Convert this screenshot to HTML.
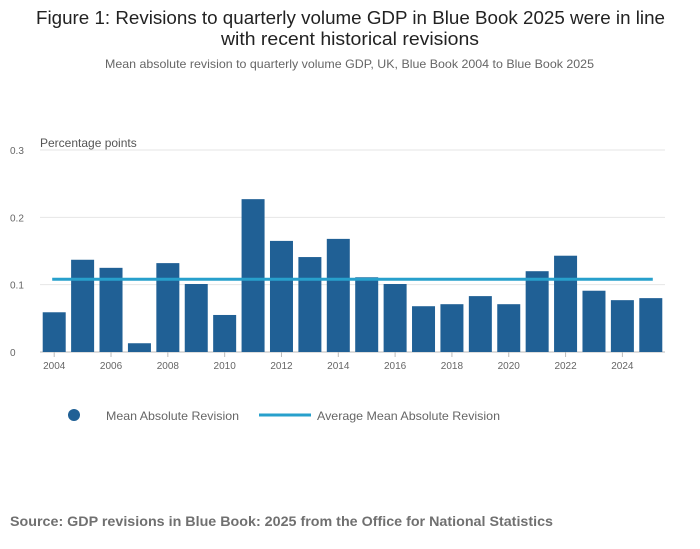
<!DOCTYPE html>
<html><head><meta charset="utf-8"><style>
body{margin:0;background:#fff;font-family:"Liberation Sans",sans-serif;}
#wrap{position:relative;width:700px;height:549px;overflow:hidden}
</style></head><body>
<div id="wrap">
<svg id="c" width="700" height="549">
<text x="36" y="24" textLength="629" lengthAdjust="spacingAndGlyphs" font-size="18" fill="#222">Figure 1: Revisions to quarterly volume GDP in Blue Book 2025 were in line</text>
<text x="221" y="45" textLength="258" lengthAdjust="spacingAndGlyphs" font-size="18" fill="#222">with recent historical revisions</text>
<text x="105" y="68" textLength="489" lengthAdjust="spacingAndGlyphs" font-size="12" fill="#666">Mean absolute revision to quarterly volume GDP, UK, Blue Book 2004 to Blue Book 2025</text>
<text x="40" y="147" font-size="12" fill="#555">Percentage points</text>
<g id="grid"></g><g id="bars"></g><g id="avg"></g><g id="xt"></g>
<g>
<circle cx="74" cy="415" r="6" fill="#206095"/>
<text x="106" y="420" textLength="133" lengthAdjust="spacingAndGlyphs" font-size="12" fill="#666">Mean Absolute Revision</text>
<line x1="259" y1="415" x2="311" y2="415" stroke="#27a0cc" stroke-width="3"/>
<text x="317" y="420" textLength="183" lengthAdjust="spacingAndGlyphs" font-size="12" fill="#666">Average Mean Absolute Revision</text>
</g>
<text x="10" y="526" textLength="543" lengthAdjust="spacingAndGlyphs" font-size="14" font-weight="bold" fill="#707070">Source: GDP revisions in Blue Book: 2025 from the Office for National Statistics</text>
</svg></div>
<script>
const years=[2004,2005,2006,2007,2008,2009,2010,2011,2012,2013,2014,2015,2016,2017,2018,2019,2020,2021,2022,2023,2024,2025];
const values=[0.059,0.137,0.125,0.013,0.132,0.101,0.055,0.227,0.165,0.141,0.168,0.111,0.101,0.068,0.071,0.083,0.071,0.120,0.143,0.091,0.077,0.080];
const average=0.108;
const yTicks=[0,0.1,0.2,0.3];
const yTickLabels=["0","0.1","0.2","0.3"];
const xTickLabels=[2004,2006,2008,2010,2012,2014,2016,2018,2020,2022,2024];
const NS="http://www.w3.org/2000/svg";
const L=40,R=665,T=150,B=352;
const y=v=>B-(v/0.3)*(B-T);
const step=(R-L)/years.length;
const x=yr=>L+step*(years.indexOf(yr)+0.5);
function mk(t,a,p){const e=document.createElementNS(NS,t);for(const k in a)e.setAttribute(k,a[k]);p.appendChild(e);return e;}
const g=document.getElementById('grid');
yTicks.forEach((v,i)=>{
 const ln=mk('line',{x1:L,x2:R,y1:y(v),y2:y(v),stroke:i==0?'#bbb':'#e6e6e6'},g);
 
 
 const t=mk('text',{x:10,y:y(v)+4,'font-size':10,fill:'#666'},g);t.textContent=yTickLabels[i];
 
 
});
const bg=document.getElementById('bars');
years.forEach((yr,i)=>{
 const r=mk('rect',{x:x(yr)-11.5,width:23,y:y(values[i]),height:B-y(values[i]),fill:'#206095'},bg);
 
 
});
const al=mk('line',{x1:x(years[0])-2,x2:x(years[years.length-1])+2,y1:y(average),y2:y(average),stroke:'#27a0cc','stroke-width':3},document.getElementById('avg'));


const xg=document.getElementById('xt');
xTickLabels.forEach(yr=>{
 const tk=mk('line',{x1:x(yr),x2:x(yr),y1:B,y2:B+5,stroke:'#bbb'},xg);
 
 
 const t=mk('text',{x:x(yr),y:B+17,'text-anchor':'middle','font-size':10,fill:'#666'},xg);t.textContent=yr;
 
 
});
</script>
</body></html>
